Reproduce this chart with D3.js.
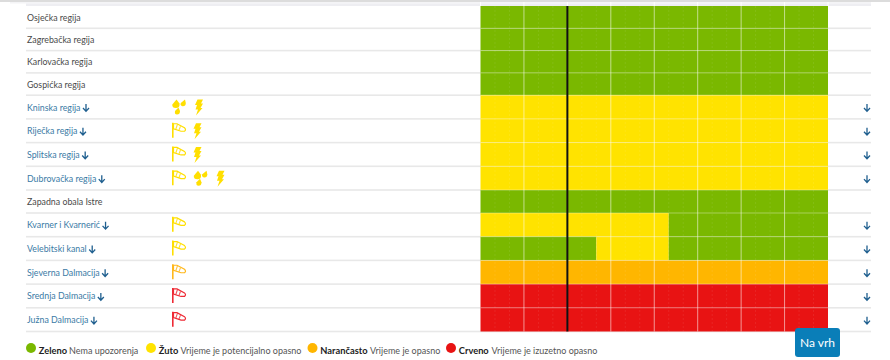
<!DOCTYPE html>
<html>
<head>
<meta charset="utf-8">
<script src="https://cdn.jsdelivr.net/npm/d3@7"></script>
<style>
    html, body { margin: 0; padding: 0; background: #fff; }
    svg { display: block; font-family: Lato, sans-serif; }
</style>
</head>
<body>
<div id="chart"></div>
<script>
// Regions in table order
const regions = [
    'Osječka regija', 'Zagrebačka regija', 'Karlovačka regija', 'Gospićka regija',
    'Kninska regija', 'Riječka regija', 'Splitska regija', 'Dubrovačka regija',
    'Zapadna obala Istre', 'Kvarner i Kvarnerić', 'Velebitski kanal',
    'Sjeverna Dalmacija', 'Srednja Dalmacija', 'Južna Dalmacija'
];

// Warning level per region as [from hour, to hour, level]
const segments = [
    [[0, 24, 'green']],
    [[0, 24, 'green']],
    [[0, 24, 'green']],
    [[0, 24, 'green']],
    [[0, 24, 'yellow']],
    [[0, 24, 'yellow']],
    [[0, 24, 'yellow']],
    [[0, 24, 'yellow']],
    [[0, 24, 'green']],
    [[0, 13, 'yellow'], [13, 24, 'green']],
    [[0, 8, 'green'], [8, 13, 'yellow'], [13, 24, 'green']],
    [[0, 24, 'orange']],
    [[0, 24, 'red']],
    [[0, 24, 'red']]
];

// Phenomena icons per region as [icon, level]
const icons = [
    [], [], [], [],
    [['rain', 'yellow'], ['bolt', 'yellow']],
    [['wind', 'yellow'], ['bolt', 'yellow']],
    [['wind', 'yellow'], ['bolt', 'yellow']],
    [['wind', 'yellow'], ['rain', 'yellow'], ['bolt', 'yellow']],
    [],
    [['wind', 'yellow']],
    [['wind', 'yellow']],
    [['wind', 'orange']],
    [['wind', 'red']],
    [['wind', 'red']]
];

const legendLevels = ['green', 'yellow', 'orange', 'red'];
const legendNames = ['Zeleno', 'Žuto', 'Narančasto', 'Crveno'];
const legendTexts = ['Nema upozorenja', 'Vrijeme je potencijalno opasno', 'Vrijeme je opasno', 'Vrijeme je izuzetno opasno'];
const currentHour = 6;

const width = 890, height = 360;
const color = d3.scaleOrdinal()
    .domain(legendLevels)
    .range(['#7ab800', '#ffe300', '#ffb600', '#e81313']);
const iconColor = d3.scaleOrdinal()
    .domain(legendLevels)
    .range(['#7ab800', '#ffdf00', '#ffb81c', '#ee2a35']);

const svg = d3.select('#chart').append('svg')
    .attr('width', width)
    .attr('height', height);

// Rows with icons are a bit taller, same as in the html table
const rowHeights = icons.map((d, i) => d.length ? 23.7 : (i === 8 ? 23 : 22.3));
const rowEdges = [0, ...d3.cumsum(rowHeights)];
const tableTop = 6;
const y = d3.scaleLinear().domain([0, 1]).range([tableTop, tableTop + 1]);
const x = d3.scaleLinear().domain([0, 24]).range([480.5, 828]);

// Top bands
svg.append('rect').attr('x', 0).attr('y', 0).attr('width', width).attr('height', 2).attr('fill', '#dcdcdc');
svg.append('rect').attr('x', 10).attr('y', 2).attr('width', 861).attr('height', 1.5).attr('fill', '#f4f4f6');
svg.append('rect').attr('x', 26).attr('y', 3.5).attr('width', 845).attr('height', 2.5).attr('fill', '#eeeef2');

// Row separators
svg.append('g').selectAll('rect')
    .data(rowEdges.slice(1))
    .join('rect')
    .attr('x', 26)
    .attr('y', d => y(d) - 0.8)
    .attr('width', 845)
    .attr('height', 1.6)
    .attr('fill', '#e8e8e8');

// Warning cells
const rows = svg.append('g').selectAll('g')
    .data(regions)
    .join('g');

rows.selectAll('rect')
    .data((d, i) => segments[i].map(s => ({ from: s[0], to: s[1], level: s[2], row: i })))
    .join('rect')
    .attr('x', d => x(d.from))
    .attr('y', d => y(rowEdges[d.row]))
    .attr('width', d => x(d.to) - x(d.from))
    .attr('height', d => rowHeights[d.row])
    .attr('fill', d => color(d.level));

// Horizontal lines over the cells
svg.append('g').selectAll('line')
    .data(rowEdges.slice(1, -1))
    .join('line')
    .attr('x1', x(0)).attr('x2', x(24))
    .attr('y1', d => y(d)).attr('y2', d => y(d))
    .attr('stroke', '#fff')
    .attr('stroke-opacity', 0.35)
    .attr('stroke-width', 1);

// Hour grid, every third hour is solid
svg.append('g').selectAll('line')
    .data(d3.range(1, 24))
    .join('line')
    .attr('x1', d => x(d)).attr('x2', d => x(d))
    .attr('y1', y(0)).attr('y2', y(rowEdges[rowEdges.length - 1]))
    .attr('stroke', '#fff')
    .attr('stroke-width', 1)
    .attr('stroke-opacity', d => d % 3 === 0 ? 0.55 : 0.08)
    .attr('stroke-dasharray', d => d % 3 === 0 ? null : '2,2');

// Header ticks above the cells
svg.append('g').selectAll('line')
    .data(d3.range(0, 25, 3))
    .join('line')
    .attr('x1', d => x(d)).attr('x2', d => x(d))
    .attr('y1', 2).attr('y2', 6)
    .attr('stroke', '#fff')
    .attr('stroke-width', 1);

// Current time
svg.append('line')
    .attr('x1', x(currentHour)).attr('x2', x(currentHour))
    .attr('y1', y(0)).attr('y2', y(rowEdges[rowEdges.length - 1]))
    .attr('stroke', '#111')
    .attr('stroke-width', 2);

function drawArrow(g, ax, ay) {
    g.append('path')
        .attr('transform', `translate(${ax},${ay})`)
        .attr('d', 'M0,-3.5V3.5M-3,0.5L0,3.8L3,0.5')
        .attr('fill', 'none')
        .attr('stroke', '#1f5f8f')
        .attr('stroke-width', 1.3);
}

// Labels
rows.each(function(d, i) {
    const g = d3.select(this);
    const cy = y(rowEdges[i] + rowHeights[i] / 2);
    const hasIcons = icons[i].length > 0;
    const label = g.append('text')
        .attr('x', 27)
        .attr('y', cy + 3.5)
        .attr('font-size', 8.8)
        .attr('fill', hasIcons ? '#3a7aa5' : '#4a4a4a')
        .text(d);
    if (hasIcons) {
        drawArrow(g, 27 + label.node().getComputedTextLength() + 5.5, cy + 0.5);
        drawArrow(g, 867, cy + 0.5);
    }

    // Icons, each one takes its own width
    let ix = 172;
    icons[i].forEach(([name, level]) => {
        const c = iconColor(level);
        const ic = g.append('g').attr('transform', `translate(${ix},${cy - 7.5})`);
        if (name === 'wind') {
            ic.append('path').attr('d', 'M0.8,-0.5V14.5').attr('stroke', c).attr('stroke-width', 1.6);
            ic.append('path').attr('d', 'M1.5,0.5L5,0.5L12.5,4.5Q14.5,6.5 12.5,8L9,8L1.5,5.5Z')
                .attr('fill', '#fff').attr('stroke', c).attr('stroke-width', 1.2);
            ic.append('path').attr('d', 'M5.5,1L3.8,6M8.5,3L6.8,7.4').attr('stroke', c).attr('stroke-opacity', 0.8).attr('stroke-width', 1.1);
            ix += 21.5;
        } else if (name === 'rain') {
            ic.append('path').attr('d', 'M4.5,0L7.5,4Q8,8.5 4,8.5Q0,8.5 0.3,5Z').attr('fill', c);
            ic.append('path').attr('d', 'M13,0L13.8,3.5Q13.8,7 10.5,6.8Q7.8,6 8.8,3.5Z').attr('fill', c);
            ic.append('path').attr('d', 'M6.5,8L8,11.5Q8,15 5,15Q2.3,15 3,11.5Z').attr('fill', c);
            ix += 23;
        } else {
            ic.append('path').attr('d', 'M2.5,0H8L6,4H8L5.5,8.5H7.5L1,16L3,10H0.5L2,5.5H0Z').attr('fill', c);
            ix += 23;
        }
    });
});

// Legend
const legendCircle = [31, 151, 312.5, 451];
const legendNote = [69, 180.5, 370, 491.5];
const legend = svg.append('g').selectAll('g')
    .data(legendLevels)
    .join('g');
legend.append('circle')
    .attr('cx', (d, i) => legendCircle[i])
    .attr('cy', 348)
    .attr('r', 5)
    .attr('fill', d => color(d));
legend.append('text')
    .attr('x', (d, i) => legendCircle[i] + 7.8)
    .attr('y', 354)
    .attr('font-size', 9.3)
    .attr('font-weight', 700)
    .attr('fill', '#222')
    .text((d, i) => legendNames[i]);
legend.append('text')
    .attr('x', (d, i) => legendNote[i])
    .attr('y', 354)
    .attr('font-size', 9)
    .attr('fill', '#555')
    .text((d, i) => legendTexts[i]);

// Back to top button
svg.append('rect')
    .attr('x', 795).attr('y', 328)
    .attr('width', 45).attr('height', 29)
    .attr('rx', 3)
    .attr('fill', '#0a7eb8');
svg.append('text')
    .attr('x', 817.5).attr('y', 347)
    .attr('text-anchor', 'middle')
    .attr('font-size', 12)
    .attr('fill', '#fff')
    .text('Na vrh');
</script>
</body>
</html>
